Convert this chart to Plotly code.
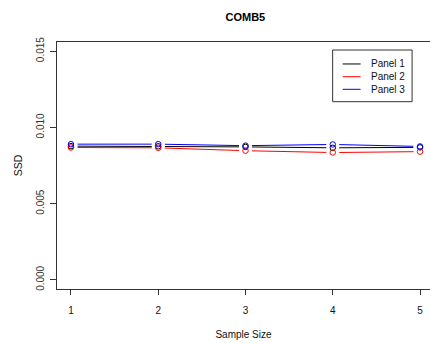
import plotly.graph_objects as go

# Sample sizes on the x axis
sample_size = [1, 2, 3, 4, 5]

# SSD per panel
panel1 = [0.00877, 0.00876, 0.00872, 0.00866, 0.00869]
panel2 = [0.00868, 0.00866, 0.00847, 0.00835, 0.00841]
panel3 = [0.00890, 0.00890, 0.00880, 0.00888, 0.00875]

series_names = ["Panel 1", "Panel 2", "Panel 3"]
series_values = [panel1, panel2, panel3]
series_colors = ["#000000", "#FF0000", "#0000FF"]

y_ticks = [0.000, 0.005, 0.010, 0.015]
y_tick_text = ["0.000", "0.005", "0.010", "0.015"]

FONT = "Liberation Sans, Arial, sans-serif"
AXIS_COL = "#333333"

fig = go.Figure()

# connecting lines
for name, vals, col in zip(series_names, series_values, series_colors):
    fig.add_trace(go.Scatter(
        x=sample_size, y=vals, mode="lines", name=name,
        line=dict(color=col, width=1), showlegend=False, hoverinfo="skip"))

# white discs leave a small gap in the lines around each point (type "b" look)
for vals in series_values:
    fig.add_trace(go.Scatter(
        x=sample_size, y=vals, mode="markers",
        marker=dict(symbol="circle", size=13, color="white", line=dict(width=0)),
        showlegend=False, hoverinfo="skip"))

# open circle markers
for name, vals, col in zip(series_names, series_values, series_colors):
    fig.add_trace(go.Scatter(
        x=sample_size, y=vals, mode="markers", name=name,
        marker=dict(symbol="circle-open", size=5.5, color=col, line=dict(width=1)),
        showlegend=False))

# hand-drawn legend box in the upper right
lx0, lx1, ly0, ly1 = 0.739, 0.952, 0.7583, 0.9676
fig.add_shape(type="rect", xref="paper", yref="paper", x0=lx0, x1=lx1, y0=ly0, y1=ly1,
              line=dict(color=AXIS_COL, width=1), fillcolor="white", layer="above")
row_y = [0.911, 0.8595, 0.8085]
for name, col, ry in zip(series_names, series_colors, row_y):
    fig.add_shape(type="line", xref="paper", yref="paper", x0=0.766, x1=0.814, y0=ry, y1=ry,
                  line=dict(color=col, width=1), layer="above")
    fig.add_annotation(xref="paper", yref="paper", x=0.836, y=ry, text=name, showarrow=False,
                       xanchor="left", yanchor="middle",
                       font=dict(family=FONT, size=10, color="#111111"))

fig.update_layout(
    width=430, height=343,
    margin=dict(l=57, r=0, t=42, b=54),
    paper_bgcolor="white", plot_bgcolor="white",
    showlegend=False,
    title=dict(text="<b>COMB5</b>", x=0.505, xref="paper", xanchor="center",
               y=1 - 17 / 343, yref="container", yanchor="middle",
               font=dict(family=FONT, size=11, color="black")),
    font=dict(family=FONT, size=10, color=AXIS_COL),
)

fig.update_xaxes(
    range=[0.84, 0.84 + 373 / 87.27], tickvals=sample_size, ticktext=[str(v) for v in sample_size],
    showline=True, linecolor=AXIS_COL, linewidth=1, mirror=True,
    ticks="outside", ticklen=5, tickcolor=AXIS_COL, tickwidth=1,
    ticklabelstandoff=7, showgrid=False, zeroline=False,
    title=dict(text="Sample Size", standoff=15, font=dict(family=FONT, size=10, color="#111111")),
    tickfont=dict(family=FONT, size=10, color="#111111"),
)
fig.update_yaxes(
    range=[-0.0006, 0.0156], tickvals=y_ticks, ticktext=y_tick_text, tickangle=-90,
    showline=True, linecolor=AXIS_COL, linewidth=1, mirror=False,
    ticks="outside", ticklen=6, tickcolor=AXIS_COL, tickwidth=1,
    ticklabelstandoff=2, showgrid=False, zeroline=False,
    title=dict(text="SSD", standoff=10, font=dict(family=FONT, size=10.5, color="#111111")),
    tickfont=dict(family=FONT, size=10, color="#333333"),
)

fig.write_html("out.html")
